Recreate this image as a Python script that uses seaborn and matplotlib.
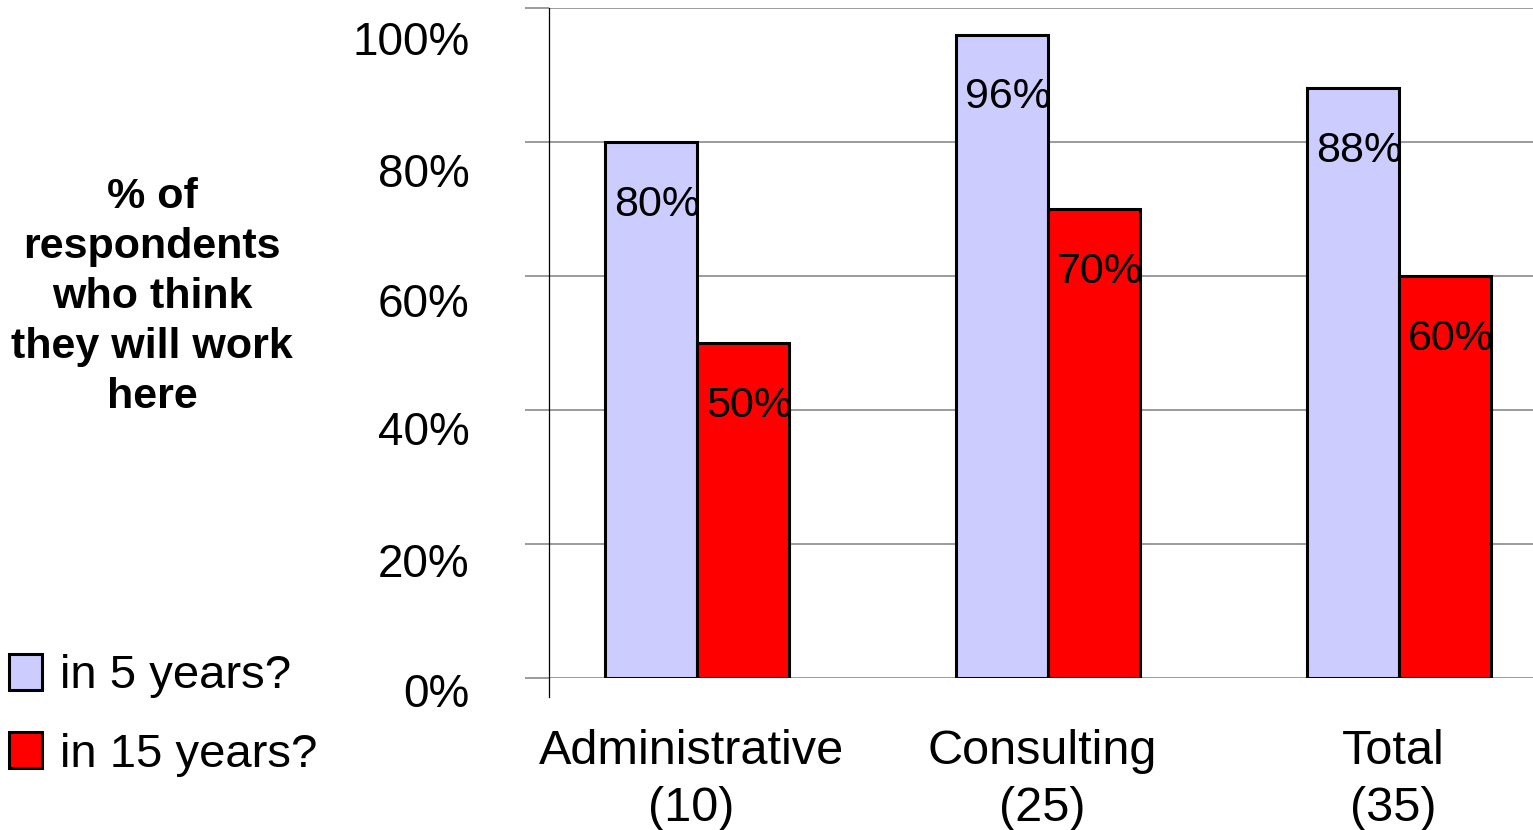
import matplotlib
matplotlib.use("Agg")
import matplotlib.pyplot as plt
import matplotlib.transforms as mtransforms
from matplotlib.patches import Patch
import seaborn as sns
import pandas as pd

# Survey results: share of respondents expecting to still work here
groups = ["Administrative\n(10)", "Consulting\n(25)", "Total\n(35)"]
horizons = ["in 5 years?", "in 15 years?"]
share_5y = [0.80, 0.96, 0.88]
share_15y = [0.50, 0.70, 0.60]
y_ticks = [0.0, 0.2, 0.4, 0.6, 0.8, 1.0]
y_tick_labels = ["0%", "20%", "40%", "60%", "80%", "100%"]
side_title = "% of\nrespondents\nwho think\nthey will work\nhere"

colors = {"in 5 years?": "#CCCCFF", "in 15 years?": "#FF0000"}

df = pd.DataFrame({
    "group": groups * 2,
    "horizon": [horizons[0]] * 3 + [horizons[1]] * 3,
    "share": share_5y + share_15y,
})

sns.set_theme(style="white")
plt.rcParams["font.family"] = ["Liberation Sans", "DejaVu Sans"]
plt.rcParams["text.color"] = "black"
plt.rcParams["xtick.color"] = "black"
plt.rcParams["ytick.color"] = "black"

W, H = 1533, 830
fig = plt.figure(figsize=(W / 100, H / 100), dpi=100)
ax = fig.add_axes([549 / W, (H - 678) / H, (W - 549) / W, 670 / H])

sns.barplot(data=df, x="group", y="share", hue="horizon", order=groups,
            hue_order=horizons, palette=colors, width=0.524,
            edgecolor="black", linewidth=2.2, saturation=1, legend=False,
            ax=ax, zorder=3)

ax.set_xlim(-0.4225, 2.381)
ax.set_ylim(0, 1)
ax.set_yticks(y_ticks)
ax.set_yticklabels(y_tick_labels)
ax.set_xlabel("")
ax.set_ylabel("")

# horizontal gridlines across the plot
ax.yaxis.grid(True, color="#808080", linewidth=1.1, zorder=0)
ax.xaxis.grid(False)

for side in ["top", "right", "bottom"]:
    ax.spines[side].set_visible(False)
ax.spines["left"].set_color("black")
ax.spines["left"].set_linewidth(0.9)
ax.spines["left"].set_bounds(-0.028, 1.0)

ax.tick_params(axis="y", left=True, length=17, width=1.1, color="#808080",
               labelsize=33, pad=40, labelcolor="black")
ax.tick_params(axis="x", bottom=False, length=0, labelsize=35, pad=37,
               labelcolor="black")
x_shift = mtransforms.ScaledTranslation(-6 / 100, 0, fig.dpi_scale_trans)
for lbl in ax.get_xticklabels():
    lbl.set_linespacing(1.33)
    lbl.set_transform(lbl.get_transform() + x_shift)

# y tick labels sit a little below their gridlines
label_drop_px = [12, 16, 18, 24, 28, 30]
for lbl, drop in zip(ax.get_yticklabels(), label_drop_px):
    offset = mtransforms.ScaledTranslation(0, -drop / 100, fig.dpi_scale_trans)
    lbl.set_transform(lbl.get_transform() + offset)

# value labels just inside the top of each bar
for container in ax.containers:
    for bar in container:
        h = bar.get_height()
        ax.annotate(f"{h:.0%}",
                    xy=(bar.get_x() + bar.get_width() / 2, h),
                    xytext=(4, -45), textcoords="offset points",
                    ha="center", va="center", fontsize=31, color="black",
                    zorder=5)

# side title
fig.text(152 / W, 1 - 297 / H, side_title, ha="center", va="center",
         multialignment="center", fontsize=31, fontweight="bold",
         linespacing=1.32, color="black")

# legend
handles = [Patch(facecolor=colors[h], edgecolor="black", linewidth=2.2)
           for h in horizons]
leg = fig.legend(handles, horizons, loc="upper left",
                 bbox_to_anchor=(0 / W, 1 - 645 / H), frameon=False,
                 fontsize=34, handlelength=0.68, handleheight=0.77,
                 handletextpad=0.4, labelspacing=0.72, borderpad=0.2,
                 borderaxespad=0)
for t in leg.get_texts():
    t.set_color("black")

fig.savefig("out.png", dpi=100)
